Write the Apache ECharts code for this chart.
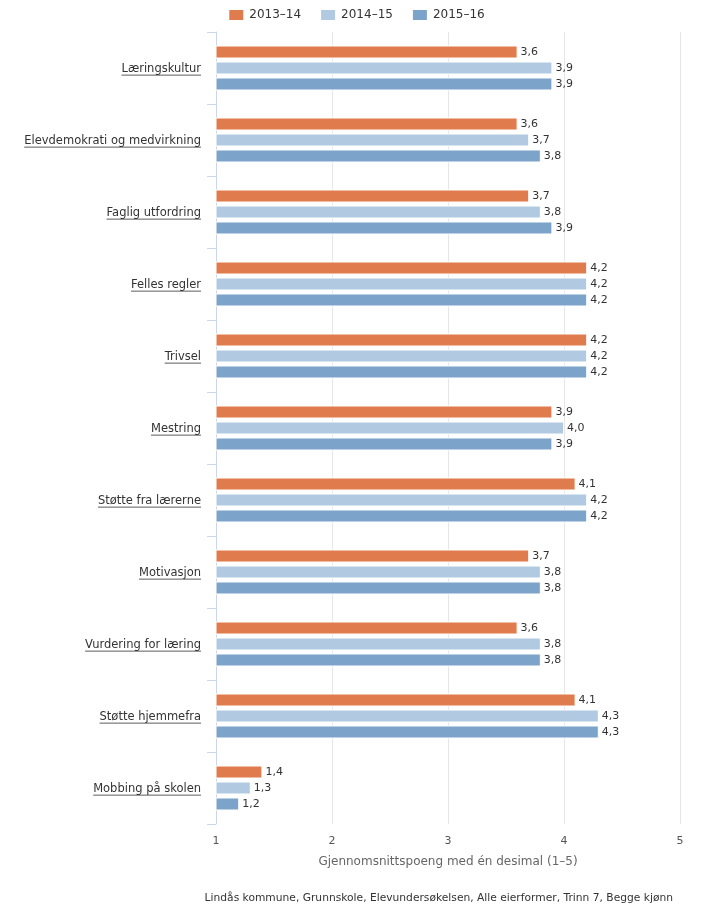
<!DOCTYPE html>
<html>
<head>
<meta charset="utf-8">
<script src="https://cdn.jsdelivr.net/npm/echarts@6/dist/echarts.min.js"></script>
<style>
html,body{margin:0;padding:0;background:#fff;}
#chart{width:712px;height:911px;}
</style>
</head>
<body>
<div id="chart"></div>
<script>
var categories = ['Læringskultur','Elevdemokrati og medvirkning','Faglig utfordring','Felles regler','Trivsel','Mestring','Støtte fra lærerne','Motivasjon','Vurdering for læring','Støtte hjemmefra','Mobbing på skolen'];
var seriesNames = ['2013–14','2014–15','2015–16'];
var values2013 = [3.6,3.6,3.7,4.2,4.2,3.9,4.1,3.7,3.6,4.1,1.4];
var values2014 = [3.9,3.7,3.8,4.2,4.2,4.0,4.2,3.8,3.8,4.3,1.3];
var values2015 = [3.9,3.8,3.9,4.2,4.2,3.9,4.2,3.8,3.8,4.3,1.2];
var xTicks = [1,2,3,4,5];
var axisTitle = 'Gjennomsnittspoeng med én desimal (1–5)';
var caption = 'Lindås kommune, Grunnskole, Elevundersøkelsen, Alle eierformer, Trinn 7, Begge kjønn';

var colors = ['#e07b4d','#b1c9e1','#7ca3c9'];
var FONT = 'DejaVu Sans';

// underline image for category labels
var ul = document.createElement('canvas');
ul.width = 2; ul.height = 18;
var uctx = ul.getContext('2d');
uctx.fillStyle = '#333333';
uctx.fillRect(0, 17, 2, 1);

var chart = echarts.init(document.getElementById('chart'), null, {renderer:'canvas'});
function fmt(p){ return p.value.toFixed(1).replace('.', ','); }
function mk(name, data, color){
  return {
    name: name, type: 'bar', data: data,
    barWidth: 13, barGap: '23%',
    itemStyle: {color: color, borderColor: '#ffffff', borderWidth: 1},
    label: {show: true, position: 'right', distance: 3, formatter: fmt,
            fontFamily: FONT, fontSize: 11, color: '#333333'},
    emphasis: {disabled: true}
  };
}
chart.setOption({
  animation: false,
  textStyle: {fontFamily: FONT},
  legend: {
    top: 3, left: 'center', itemWidth: 16, itemHeight: 12, itemGap: 18,
    icon: 'rect',
    textStyle: {fontFamily: FONT, fontSize: 12, color: '#333333'},
    data: seriesNames
  },
  title: {
    text: caption, right: 39, bottom: 7, padding: 0,
    textStyle: {fontFamily: FONT, fontSize: 10.7, fontWeight: 'normal', color: '#333333'}
  },
  grid: {left: 216, right: 32, top: 32, bottom: 87, containLabel: false},
  xAxis: {
    type: 'value', min: xTicks[0], max: xTicks[xTicks.length-1], interval: 1,
    axisLine: {show: false}, axisTick: {show: false},
    splitLine: {lineStyle: {color: '#e6e6e6', width: 1}},
    axisLabel: {fontFamily: FONT, fontSize: 11, color: '#555555', margin: 12},
    name: axisTitle, nameLocation: 'middle', nameGap: 32,
    nameTextStyle: {fontFamily: FONT, fontSize: 12, color: '#666666'}
  },
  yAxis: {
    type: 'category', data: categories, inverse: true,
    axisLine: {show: true, lineStyle: {color: '#ccd6eb'}},
    axisTick: {show: true, length: 9, lineStyle: {color: '#ccd6eb'}},
    axisLabel: {
      margin: 15,
      formatter: function(v){ return '{u|' + v + '}'; },
      rich: {u: {fontFamily: FONT, fontSize: 11.5, color: '#333333', lineHeight: 15,
                 padding: [3,0,0,0], backgroundColor: {image: ul}}}
    }
  },
  series: [mk(seriesNames[0], values2013, colors[0]), mk(seriesNames[1], values2014, colors[1]), mk(seriesNames[2], values2015, colors[2])]
});
</script>
</body>
</html>
